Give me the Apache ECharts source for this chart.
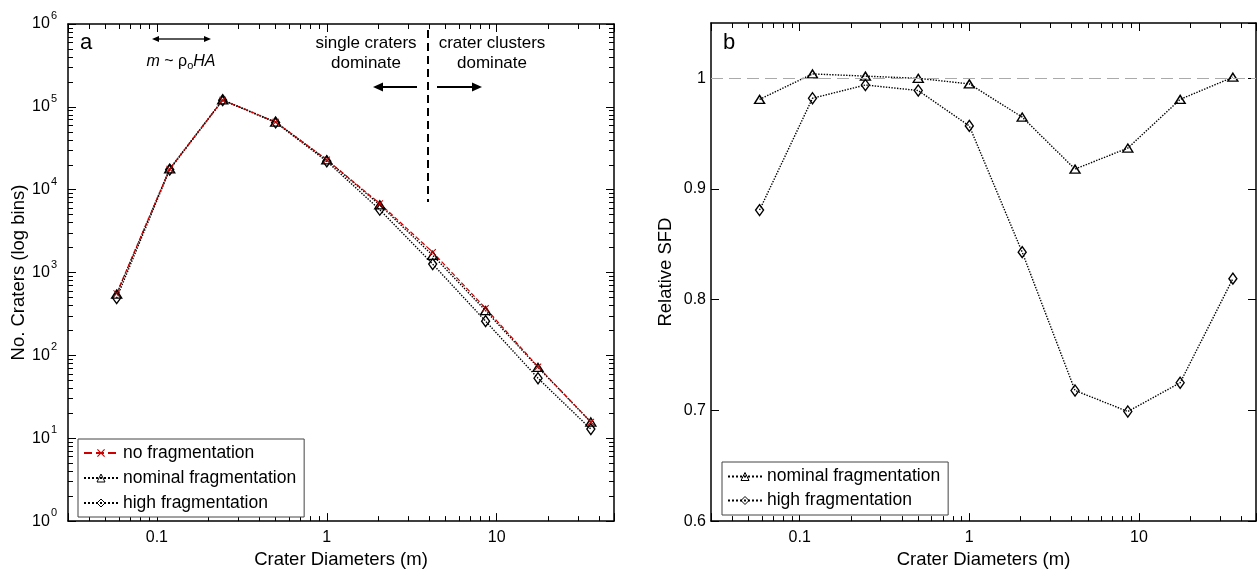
<!DOCTYPE html>
<html>
<head>
<meta charset="utf-8">
<script src="https://cdn.jsdelivr.net/npm/echarts@6/dist/echarts.min.js"></script>
<style>
  html, body { margin: 0; padding: 0; background: #fff; }
  #chart { width: 1258px; height: 574px; }
</style>
</head>
<body>
<div id="chart"></div>
<script>
// crater diameter bins (m)
const diameters = [0.058, 0.119, 0.244, 0.5, 1.0, 2.05, 4.2, 8.6, 17.5, 35.8];

// panel a: number of craters per bin
const noFrag      = [560, 17800, 121000, 65500, 23000, 6800, 1760, 370, 73, 15.7];
const nominalFrag = [549, 17870, 121300, 65500, 22870, 6560, 1615, 347, 71.6, 15.7];
const highFrag    = [493, 17490, 120300, 64800, 22020, 5735, 1264, 259, 53, 12.9];

// panel b: SFD relative to no fragmentation
const nominalRel = [0.981, 1.004, 1.002, 1.0, 0.995, 0.965, 0.918, 0.937, 0.981, 1.001];
const highRel    = [0.881, 0.982, 0.994, 0.989, 0.957, 0.843, 0.718, 0.699, 0.725, 0.819];

const seriesNames = ['no fragmentation', 'nominal fragmentation', 'high fragmentation'];

const FONT = 'Liberation Sans, Arial, sans-serif';
const RED = '#cc0000';
const CROSS = 'path://M0,1L1,0L5,4L9,0L10,1L6,5L10,9L9,10L5,6L1,10L0,9L4,5Z';

const pairs = (xs, ys) => xs.map((x, i) => [x, ys[i]]);

// short ticks at 2..9 inside every decade
const minorTick = { show: true, splitNumber: 9, length: 5, lineStyle: { color: '#000', width: 1 } };

function xAxisOf(grid, pos, labels) {
  return {
    type: 'log', logBase: 10, gridIndex: grid, position: pos,
    min: 0.03, max: 49,
    axisLine: { onZero: false, lineStyle: { color: '#000', width: 1.5 } },
    axisTick: { inside: true, length: 8, lineStyle: { color: '#000', width: 1 } },
    minorTick: minorTick,
    splitLine: { show: false },
    axisLabel: {
      show: labels, showMinLabel: false, showMaxLabel: false,
      color: '#000', fontSize: 16, fontFamily: FONT, margin: 8
    },
    name: labels ? 'Crater Diameters (m)' : '',
    nameLocation: 'middle', nameGap: 25,
    nameTextStyle: { color: '#000', fontSize: 18.5, fontFamily: FONT }
  };
}

function logYAxisOf(pos, labels) {
  return {
    type: 'log', logBase: 10, gridIndex: 0, position: pos,
    min: 1, max: 1e6,
    axisLine: { onZero: false, lineStyle: { color: '#000', width: 1.5 } },
    axisTick: { inside: true, length: 8, lineStyle: { color: '#000', width: 1 } },
    minorTick: minorTick,
    splitLine: { show: false },
    axisLabel: {
      show: labels, margin: 11,
      formatter: v => '{b|10}{s|' + Math.round(Math.log10(v)) + '}',
      rich: {
        b: { fontSize: 16, fontFamily: FONT, color: '#000' },
        s: { fontSize: 11, fontFamily: FONT, color: '#000', padding: [0, 0, 16, 1] }
      }
    },
    name: labels ? 'No. Craters (log bins)' : '',
    nameLocation: 'middle', nameGap: 39,
    nameTextStyle: { color: '#000', fontSize: 18.5, fontFamily: FONT }
  };
}

function relYAxisOf(pos, labels) {
  return {
    type: 'value', gridIndex: 1, position: pos,
    min: 0.6, max: 1.05, interval: 0.1,
    axisLine: { onZero: false, lineStyle: { color: '#000', width: 1.5 } },
    axisTick: { inside: true, length: 8, lineStyle: { color: '#000', width: 1 } },
    splitLine: { show: false },
    axisLabel: {
      show: labels, showMaxLabel: false, margin: 5,
      color: '#000', fontSize: 16, fontFamily: FONT,
      formatter: v => (v === 1 ? '1' : v.toFixed(1))
    },
    name: labels ? 'Relative SFD' : '',
    nameLocation: 'middle', nameGap: 36,
    nameTextStyle: { color: '#000', fontSize: 18.5, fontFamily: FONT }
  };
}

const dotted = { color: '#000', type: 'dotted', width: 1.4 };
const hollow = { color: 'rgba(0,0,0,0)', borderColor: '#000', borderWidth: 1.4 };

function arrow(x1, x2, y, head, w, width) {
  const dir = x2 > x1 ? 1 : -1;
  return [
    { type: 'line', shape: { x1: x1, y1: y, x2: x2 - dir * head, y2: y },
      style: { stroke: '#000', lineWidth: width } },
    { type: 'polygon', shape: { points: [[x2, y], [x2 - dir * head, y - w], [x2 - dir * head, y + w]] },
      style: { fill: '#000' } }
  ];
}

const chart = echarts.init(document.getElementById('chart'));

const legendBase = {
  orient: 'vertical',
  itemWidth: 34, itemHeight: 10,
  itemStyle: { borderWidth: 1 },
  borderColor: '#444', borderWidth: 1, backgroundColor: '#fff',
  textStyle: { color: '#000', fontSize: 17.5, fontFamily: FONT }
};

const option = {
  animation: false,
  backgroundColor: '#fff',
  grid: [
    { left: 68, top: 24, width: 546, height: 503 },
    { left: 711, top: 23, width: 545, height: 503 }
  ],
  xAxis: [
    xAxisOf(0, 'bottom', true), xAxisOf(0, 'top', false),
    xAxisOf(1, 'bottom', true), xAxisOf(1, 'top', false)
  ],
  yAxis: [
    logYAxisOf('left', true), logYAxisOf('right', false),
    relYAxisOf('left', true), relYAxisOf('right', false)
  ],
  legend: [
    Object.assign({}, legendBase, {
      left: 78, top: 439, data: seriesNames,
      itemGap: 7, padding: [5, 8, 5, 5]
    }),
    Object.assign({}, legendBase, {
      left: 722, top: 462, data: seriesNames.slice(1),
      itemGap: 6, padding: [5.5, 8, 5.5, 5]
    })
  ],
  series: [
    {
      name: seriesNames[1], type: 'line', xAxisIndex: 0, yAxisIndex: 0,
      data: pairs(diameters, nominalFrag),
      symbol: 'triangle', symbolSize: [10, 8], showAllSymbol: true,
      lineStyle: dotted, itemStyle: hollow
    },
    {
      name: seriesNames[2], type: 'line', xAxisIndex: 0, yAxisIndex: 0,
      data: pairs(diameters, highFrag),
      symbol: 'diamond', symbolSize: [8, 11], showAllSymbol: true,
      lineStyle: dotted, itemStyle: hollow
    },
    {
      name: seriesNames[0], type: 'line', xAxisIndex: 0, yAxisIndex: 0,
      data: pairs(diameters, noFrag),
      symbol: CROSS, symbolSize: 7, showAllSymbol: true,
      lineStyle: { color: RED, type: 'dashed', width: 1.2 },
      itemStyle: { color: RED }
    },
    {
      name: seriesNames[1], type: 'line', xAxisIndex: 2, yAxisIndex: 2,
      data: pairs(diameters, nominalRel),
      symbol: 'triangle', symbolSize: [10, 8], showAllSymbol: true,
      lineStyle: dotted, itemStyle: hollow,
      markLine: {
        silent: true, symbol: 'none', label: { show: false },
        lineStyle: { color: '#aaa', type: [12, 6], width: 1.2 },
        data: [{ yAxis: 1 }]
      }
    },
    {
      name: seriesNames[2], type: 'line', xAxisIndex: 2, yAxisIndex: 2,
      data: pairs(diameters, highRel),
      symbol: 'diamond', symbolSize: [8, 11], showAllSymbol: true,
      lineStyle: dotted, itemStyle: hollow
    }
  ],
  graphic: [
    { type: 'text', style: { text: 'a', x: 80, y: 54, font: '22px ' + FONT, fill: '#000', verticalAlign: 'bottom' } },
    { type: 'text', style: { text: 'b', x: 723, y: 54, font: '22px ' + FONT, fill: '#000', verticalAlign: 'bottom' } },
    ...arrow(181, 152, 39, 7, 3, 1.3),
    ...arrow(181, 211, 39, 7, 3, 1.3),
    {
      type: 'text',
      style: {
        text: '{i|m} ~ ρ{o|o}{i|HA}', x: 181, y: 62, align: 'center', verticalAlign: 'middle',
        font: '16px ' + FONT, fill: '#000',
        rich: {
          i: { fontStyle: 'italic', fontSize: 16, fontFamily: FONT },
          o: { fontSize: 11, fontFamily: FONT, padding: [8, 0, 0, 0] }
        }
      }
    },
    { type: 'line', shape: { x1: 428, y1: 30, x2: 428, y2: 202 },
      style: { stroke: '#000', lineWidth: 2, lineDash: [8, 5] } },
    { type: 'text', style: { text: 'single craters\ndominate', x: 366, y: 33, align: 'center', verticalAlign: 'top',
      font: '17px ' + FONT, fill: '#000', lineHeight: 20 } },
    { type: 'text', style: { text: 'crater clusters\ndominate', x: 492, y: 33, align: 'center', verticalAlign: 'top',
      font: '17px ' + FONT, fill: '#000', lineHeight: 20 } },
    ...arrow(417, 373, 87, 10, 4.5, 2),
    ...arrow(437, 482, 87, 10, 4.5, 2)
  ]
};

chart.setOption(option);
</script>
</body>
</html>
